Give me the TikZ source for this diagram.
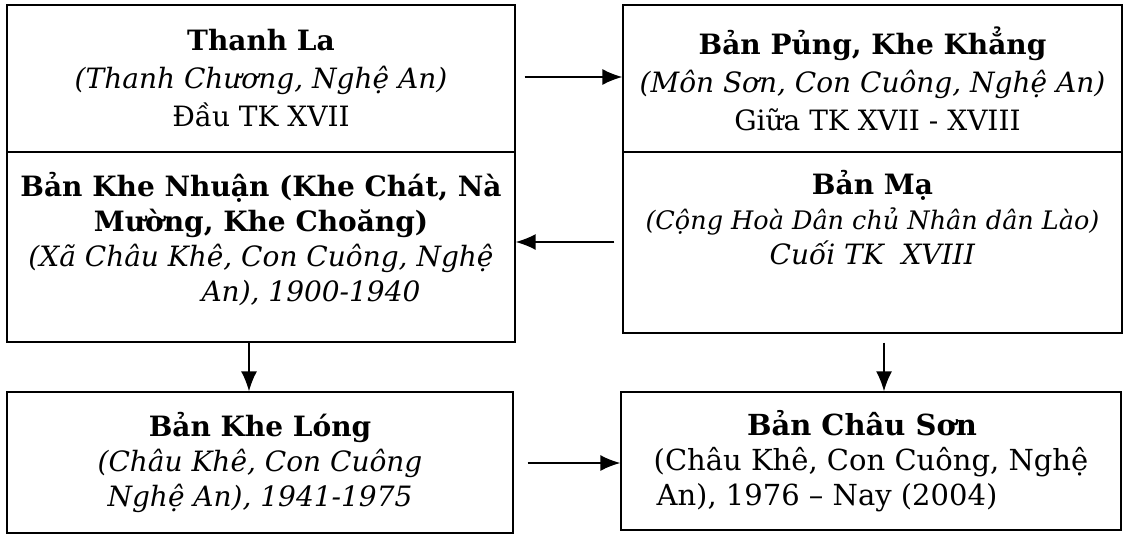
\documentclass[tikz,border=0pt]{standalone}
\usepackage{fontspec}
\setmainfont{DejaVu Serif}
\usetikzlibrary{arrows.meta}
\begin{document}
\begin{tikzpicture}[x=1pt,y=-1pt,
  box/.style={draw, line width=1.4pt, inner sep=0pt},
  txt/.style={align=center, font=\fontsize{28}{35}\selectfont, inner sep=0pt},
  arr/.style={-{Latex[length=20pt,width=16pt]}, line width=1.6pt}]
\useasboundingbox (0,0) rectangle (1129,535);
% boxes
\node[box, minimum width=508pt, minimum height=147pt] (tl) at (261,78.5) {};
\node[box, minimum width=508pt, minimum height=190pt] (kn) at (261,247) {};
\node[box, minimum width=499pt, minimum height=147pt] (bp) at (872.5,78.5) {};
\node[box, minimum width=499pt, minimum height=181pt] (bm) at (872.5,242.5) {};
\node[box, minimum width=506pt, minimum height=141pt] (kl) at (260,462.5) {};
\node[box, minimum width=500pt, minimum height=138pt] (cs) at (871,461) {};
% texts
\node[txt, font=\fontsize{28}{38}\selectfont] (tlt) at (tl.center)
  {\textbf{Thanh La}\\ \textit{(Thanh Chương, Nghệ An)}\\ Đầu TK XVII};
\node[txt, font=\fontsize{28}{38}\selectfont] (bpt) at (bp.center)
  {\textbf{Bản Pủng, Khe Khẳng}\\ \textit{(Môn Sơn, Con Cuông, Nghệ An)}\\ \hspace*{10pt}Giữa TK XVII - XVIII};
\node[txt] (knt) at ([yshift=8pt]kn.center)
  {\textbf{Bản Khe Nhuận (Khe Chát, Nà}\\ \textbf{Mường, Khe Choăng)}\\
   \textit{(Xã Châu Khê, Con Cuông, Nghệ}\\ \hspace*{100pt}\textit{An), 1900-1940}};
\node[txt] (bmt) at ([yshift=25pt]bm.center)
  {\textbf{Bản Mạ}\\ {\fontsize{25.5}{35}\selectfont\textit{(Cộng Hoà Dân chủ Nhân dân Lào)}}\\ \textit{Cuối TK\ \ XVIII}};
\node[txt] (klt) at (kl.center)
  {\textbf{Bản Khe Lóng}\\ \textit{(Châu Khê, Con Cuông}\\ \textit{Nghệ An), 1941-1975}};
\node[txt, font=\fontsize{29}{35}\selectfont] (cst) at (cs.center)
  {\textbf{Bản Châu Sơn}\hspace*{18pt}\\ (Châu Khê, Con Cuông, Nghệ\\ An), 1976 – Nay (2004)\hspace*{88pt}};
% arrows
\draw[arr, shorten <=9pt] (tl.east |- 0,77) -- (bp.west |- 0,77);
\draw[arr, shorten <=8pt] (bm.west |- 0,242) -- (kn.east |- 0,242);
\draw[arr] (kn.south -| 249,0) -- (kl.north -| 249,0);
\draw[arr, shorten <=9pt] (bm.south -| 884,0) -- (cs.north -| 884,0);
\draw[arr, shorten <=14pt] (kl.east |- 0,463) -- (cs.west |- 0,463);
\end{tikzpicture}
\end{document}
